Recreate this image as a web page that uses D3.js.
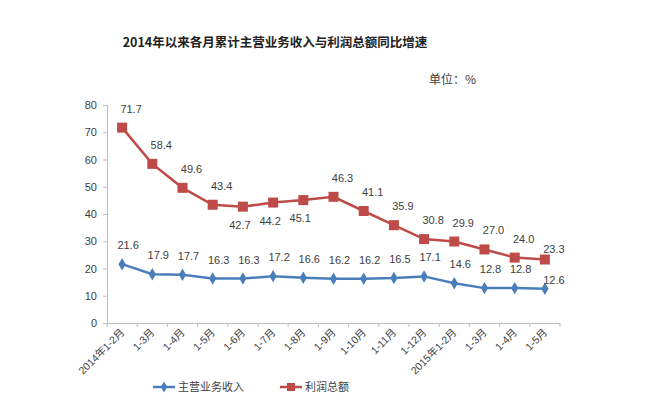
<!DOCTYPE html>
<html>
<head>
<meta charset="utf-8">
<script src="https://cdn.jsdelivr.net/npm/d3@7"></script>
<style>
  body { margin: 0; background: #fff; }
  text { font-family: "Liberation Sans", "Noto Sans CJK SC", sans-serif; }
</style>
</head>
<body>
<div id="viz"></div>
<script>
var categories = ['2014年1-2月', '1-3月', '1-4月', '1-5月', '1-6月', '1-7月', '1-8月', '1-9月',
  '1-10月', '1-11月', '1-12月', '2015年1-2月', '1-3月', '1-4月', '1-5月'];
var revenue = [21.6, 17.9, 17.7, 16.3, 16.3, 17.2, 16.6, 16.2, 16.2, 16.5, 17.1, 14.6, 12.8, 12.8, 12.6];
var profit = [71.7, 58.4, 49.6, 43.4, 42.7, 44.2, 45.1, 46.3, 41.1, 35.9, 30.8, 29.9, 27.0, 24.0, 23.3];
var yTicks = [0, 10, 20, 30, 40, 50, 60, 70, 80];
var seriesNames = ['主营业务收入', '利润总额'];

var width = 650;
var height = 416;
var margin = {top: 105, right: 90, bottom: 93, left: 107};
var blue = '#4a7ebb';
var red = '#be4b48';
var axisColor = '#bfbfbf';
var textColor = '#404040';

var svg = d3.select('#viz')
  .append('svg')
  .attr('width', width)
  .attr('height', height);

// keys are indices because 1-3月 etc. appear twice
var xScale = d3.scaleBand()
  .domain(d3.range(categories.length))
  .range([margin.left, width - margin.right]);
var yScale = d3.scaleLinear().domain([0, 80]).range([height - margin.bottom, margin.top]);
var cx = function(i) { return xScale(i) + xScale.bandwidth() / 2; };

svg.append('text')
  .attr('x', 275).attr('y', 47)
  .attr('text-anchor', 'middle')
  .style('font-family', '"Noto Sans CJK SC"')
  .style('font-weight', 'bold')
  .style('font-size', '12.5px')
  .attr('fill', '#222')
  .text('2014年以来各月累计主营业务收入与利润总额同比增速');

svg.append('text')
  .attr('x', 476).attr('y', 84)
  .attr('text-anchor', 'end')
  .style('font-family', '"Noto Sans CJK SC"')
  .style('font-size', '12px')
  .attr('fill', textColor)
  .text('单位：%');

var yAxis = svg.append('g')
  .attr('transform', `translate(${margin.left},0)`)
  .call(d3.axisLeft(yScale).tickValues(yTicks).tickSize(4).tickPadding(6));

var xAxis = svg.append('g')
  .attr('transform', `translate(0,${height - margin.bottom})`)
  .call(d3.axisBottom(xScale).tickFormat('').tickSize(0));

// tick marks on band edges
xAxis.selectAll('.edge')
  .data(d3.range(categories.length + 1))
  .enter().append('line')
  .attr('x1', function(i) { return margin.left + i * xScale.step(); })
  .attr('x2', function(i) { return margin.left + i * xScale.step(); })
  .attr('y1', 0).attr('y2', 4)
  .attr('stroke', axisColor);

svg.selectAll('.domain').attr('stroke', axisColor);
yAxis.selectAll('line').attr('stroke', axisColor);
yAxis.selectAll('text').attr('fill', textColor).style('font-size', '11px');

svg.append('g').selectAll('text')
  .data(categories)
  .enter().append('text')
  .attr('transform', function(d, i) {
    return `translate(${cx(i) + 3},${height - margin.bottom + 10}) rotate(-45)`;
  })
  .attr('text-anchor', 'end')
  .attr('fill', textColor)
  .style('font-size', '10.5px')
  .text(function(d) { return d; });

var line = d3.line()
  .x(function(d, i) { return cx(i); })
  .y(function(d) { return yScale(d); });

svg.append('path').datum(revenue)
  .attr('d', line).attr('fill', 'none')
  .attr('stroke', blue).attr('stroke-width', 2.5);
svg.append('path').datum(profit)
  .attr('d', line).attr('fill', 'none')
  .attr('stroke', red).attr('stroke-width', 2.5);

svg.append('g').selectAll('path')
  .data(revenue)
  .enter().append('path')
  .attr('d', d3.symbol().type(d3.symbolDiamond).size(45))
  .attr('transform', function(d, i) { return `translate(${cx(i)},${yScale(d)})`; })
  .attr('fill', blue);

svg.append('g').selectAll('rect')
  .data(profit)
  .enter().append('rect')
  .attr('x', function(d, i) { return cx(i) - 5; })
  .attr('y', function(d) { return yScale(d) - 5; })
  .attr('width', 10).attr('height', 10)
  .attr('fill', red);

svg.append('g').selectAll('text')
  .data(revenue)
  .enter().append('text')
  .attr('x', function(d, i) { return cx(i) + (i == revenue.length - 1 ? 9 : 6); })
  .attr('y', function(d, i) { return yScale(d) + (i == revenue.length - 1 ? -5 : -15); })
  .attr('text-anchor', 'middle')
  .attr('fill', textColor)
  .style('font-size', '11px')
  .text(function(d) { return d.toFixed(1); });

svg.append('g').selectAll('text')
  .data(profit)
  .enter().append('text')
  .attr('x', function(d, i) { return cx(i) + (i >= 4 && i <= 6 ? -3 : 9); })
  .attr('y', function(d, i) {
    if (i >= 4 && i <= 6) return yScale(d) + 22;
    if (i == profit.length - 1) return yScale(d) - 7;
    return yScale(d) - 15;
  })
  .attr('text-anchor', 'middle')
  .attr('fill', textColor)
  .style('font-size', '11px')
  .text(function(d) { return d.toFixed(1); });

// legend
var legend = svg.append('g').attr('transform', 'translate(153,387)');
[blue, red].forEach(function(c, k) {
  var g = legend.append('g').attr('transform', `translate(${k * 127},0)`);
  g.append('line').attr('x1', 0).attr('x2', 22).attr('stroke', c).attr('stroke-width', 2.5);
  if (k == 0) {
    g.append('path').attr('d', d3.symbol().type(d3.symbolDiamond).size(35))
      .attr('transform', 'translate(11,0)').attr('fill', c);
  } else {
    g.append('rect').attr('x', 7).attr('y', -4).attr('width', 8).attr('height', 8).attr('fill', c);
  }
  g.append('text').attr('x', 25).attr('y', 4)
    .style('font-family', '"Noto Sans CJK SC"')
    .style('font-size', '11px')
    .attr('fill', textColor)
    .text(seriesNames[k]);
});
</script>
</body>
</html>
